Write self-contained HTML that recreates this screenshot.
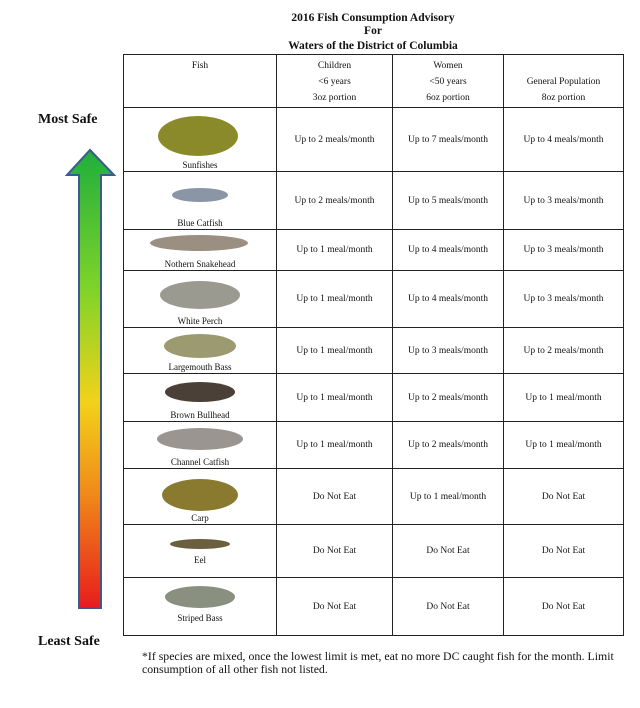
<!DOCTYPE html>
<html><head><style>
body{margin:0;width:640px;height:708px;background:#fff;position:relative;font-family:"Liberation Serif",serif;color:#111;overflow:hidden}
.t{position:absolute;left:0;width:746px;text-align:center;font-weight:bold;font-size:11.5px;line-height:12px}
table{position:absolute;left:123px;top:54px;border-collapse:collapse;table-layout:fixed}
td{border:1.5px solid #222;text-align:center;font-size:9.5px;padding:0;vertical-align:middle}
.h td{vertical-align:top;line-height:16px;padding-top:3px}
.f{position:relative}
.f span{position:absolute;bottom:1px;left:0;right:0;font-size:9px}
.f i{position:absolute;left:50%;border-radius:50%}
.lab{position:absolute;font-weight:bold;font-size:14px}
.note{position:absolute;left:142px;top:650px;font-size:11.8px;line-height:13px;width:480px}
</style></head><body>
<div class="t" style="top:12px">2016 Fish Consumption Advisory</div>
<div class="t" style="top:25px">For</div>
<div class="t" style="top:40px">Waters of the District of Columbia</div>
<div class="lab" style="left:38px;top:112px">Most Safe</div>
<div class="lab" style="left:38px;top:634px">Least Safe</div>
<svg style="position:absolute;left:0;top:0" width="130" height="620">
<defs><linearGradient id="g" x1="0" y1="0" x2="0" y2="1">
<stop offset="0" stop-color="#1fae3c"/><stop offset="0.3" stop-color="#7ed32a"/><stop offset="0.55" stop-color="#f2d21a"/><stop offset="0.75" stop-color="#f08a1a"/><stop offset="1" stop-color="#e81c1c"/></linearGradient></defs>
<polygon points="90,150 114,175 101,175 101,608 79,608 79,175 67,175" fill="url(#g)" stroke="#3c5a8c" stroke-width="2"/>
</svg>
<table>
<colgroup><col style="width:153px"><col style="width:116px"><col style="width:111px"><col style="width:120px"></colgroup>
<tr class="h" style="height:53px"><td>Fish</td><td>Children<br>&lt;6 years<br>3oz portion</td><td>Women<br>&lt;50 years<br>6oz portion</td><td><br>General Population<br>8oz portion</td></tr>
<tr style="height:64px"><td class="f"><i style="width:80px;height:40px;margin-left:-42px;top:8px;background:#8a8a2a"></i><span>Sunfishes</span></td><td>Up to 2 meals/month</td><td>Up to 7 meals/month</td><td>Up to 4 meals/month</td></tr>
<tr style="height:58px"><td class="f"><i style="width:56px;height:14px;margin-left:-28px;top:16px;background:#8a95a5"></i><span>Blue Catfish</span></td><td>Up to 2 meals/month</td><td>Up to 5 meals/month</td><td>Up to 3 meals/month</td></tr>
<tr style="height:41px"><td class="f"><i style="width:98px;height:16px;margin-left:-50px;top:5px;background:#9a8f80"></i><span>Nothern Snakehead</span></td><td>Up to 1 meal/month</td><td>Up to 4 meals/month</td><td>Up to 3 meals/month</td></tr>
<tr style="height:57px"><td class="f"><i style="width:80px;height:28px;margin-left:-40px;top:10px;background:#9a9a90"></i><span>White Perch</span></td><td>Up to 1 meal/month</td><td>Up to 4 meals/month</td><td>Up to 3 meals/month</td></tr>
<tr style="height:46px"><td class="f"><i style="width:72px;height:24px;margin-left:-36px;top:6px;background:#9b9a70"></i><span>Largemouth Bass</span></td><td>Up to 1 meal/month</td><td>Up to 3 meals/month</td><td>Up to 2 meals/month</td></tr>
<tr style="height:48px"><td class="f"><i style="width:70px;height:20px;margin-left:-35px;top:8px;background:#4a4038"></i><span>Brown Bullhead</span></td><td>Up to 1 meal/month</td><td>Up to 2 meals/month</td><td>Up to 1 meal/month</td></tr>
<tr style="height:47px"><td class="f"><i style="width:86px;height:22px;margin-left:-43px;top:6px;background:#9a9590"></i><span>Channel Catfish</span></td><td>Up to 1 meal/month</td><td>Up to 2 meals/month</td><td>Up to 1 meal/month</td></tr>
<tr style="height:56px"><td class="f"><i style="width:76px;height:32px;margin-left:-38px;top:10px;background:#8a7a30"></i><span>Carp</span></td><td>Do Not Eat</td><td>Up to 1 meal/month</td><td>Do Not Eat</td></tr>
<tr style="height:53px"><td class="f"><i style="width:60px;height:10px;margin-left:-30px;top:14px;background:#6a6040"></i><span style="bottom:12px">Eel</span></td><td>Do Not Eat</td><td>Do Not Eat</td><td>Do Not Eat</td></tr>
<tr style="height:58px"><td class="f"><i style="width:70px;height:22px;margin-left:-35px;top:8px;background:#8a9080"></i><span style="bottom:12px">Striped Bass</span></td><td>Do Not Eat</td><td>Do Not Eat</td><td>Do Not Eat</td></tr>
</table>
<div class="note">*If species are mixed, once the lowest limit is met, eat no more DC caught fish for the month. Limit consumption of all other fish not listed.</div>
</body></html>
